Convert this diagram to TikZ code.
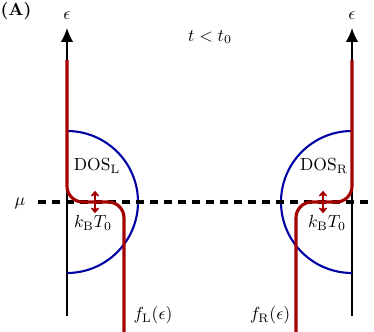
\documentclass[tikz,border=0pt]{standalone}
\usetikzlibrary{arrows.meta}
\definecolor{fred}{RGB}{165,0,0}
\definecolor{dblue}{RGB}{0,0,165}
\begin{document}
\begin{tikzpicture}[x=0.5714pt,y=-0.5714pt,
  axisline/.style={line width=0.85pt,black},
  fermi/.style={line width=1.8pt,fred,rounded corners=9pt},
  dosline/.style={line width=1.2pt,dblue},
  muline/.style={line width=1.9pt,dash pattern=on 4.3pt off 3.7pt},
  kbarrow/.style={line width=1.4pt,fred,{Stealth[round,length=3.6pt,width=6pt]}-{Stealth[round,length=3.6pt,width=6pt]}},
  lbl/.style={inner sep=0pt}]
\useasboundingbox (0,0) rectangle (374,332);
% axes
\coordinate (Lbot) at (67,316); \coordinate (Ltop) at (67,28);
\coordinate (Rbot) at (352,316); \coordinate (Rtop) at (352,28);
\draw[axisline,-{Latex[length=8pt,width=7.2pt]}] (Lbot) -- (Ltop);
\draw[axisline,-{Latex[length=8pt,width=7.2pt]}] (Rbot) -- (Rtop);
% DOS semicircles
\coordinate (Ldos) at (67,131); \coordinate (Rdos) at (352,131);
\draw[dosline] (Ldos) arc[start angle=-90,end angle=90,radius=71];
\draw[dosline] (Rdos) arc[start angle=-90,end angle=-270,radius=71];
% chemical potential
\coordinate (muL) at (38,202); \coordinate (muR) at (374,202);
\draw[muline] (muL) -- (muR);
% Fermi functions
\coordinate (fLtop) at (67,60); \coordinate (fLc1) at (67,202);
\coordinate (fLc2) at (124,202); \coordinate (fLbot) at (124,333);
\coordinate (fRtop) at (352,60); \coordinate (fRc1) at (352,202);
\coordinate (fRc2) at (296,202); \coordinate (fRbot) at (296,333);
\draw[fermi] (fLtop) -- (fLc1) -- (fLc2) -- (fLbot);
\draw[fermi] (fRtop) -- (fRc1) -- (fRc2) -- (fRbot);
% kT arrows
\coordinate (kLa) at (95,191); \coordinate (kLb) at (95,213);
\coordinate (kRa) at (323,191); \coordinate (kRb) at (323,213);
\draw[kbarrow] (kLa) -- (kLb);
\draw[kbarrow] (kRa) -- (kRb);
% labels
\node[lbl] (A) at (16,11) {\textbf{(A)}};
\node[lbl] (epsL) at (67,16) {$\epsilon$};
\node[lbl] (epsR) at (352,16) {$\epsilon$};
\node[lbl] (time) at (210,37) {$t<t_0$};
\node[lbl] (mu) at (20,203) {$\mu$};
\node[lbl] (dosL) at (97,166) {$\mathrm{DOS}_\mathrm{L}$};
\node[lbl] (dosR) at (324,166) {$\mathrm{DOS}_\mathrm{R}$};
\node[lbl] (kTL) at (93,223) {$k_\mathrm{B}T_0$};
\node[lbl] (kTR) at (327,223) {$k_\mathrm{B}T_0$};
\node[lbl] (fL) at (153,315) {$f_\mathrm{L}(\epsilon)$};
\node[lbl] (fR) at (270,315) {$f_\mathrm{R}(\epsilon)$};
\end{tikzpicture}
\end{document}
